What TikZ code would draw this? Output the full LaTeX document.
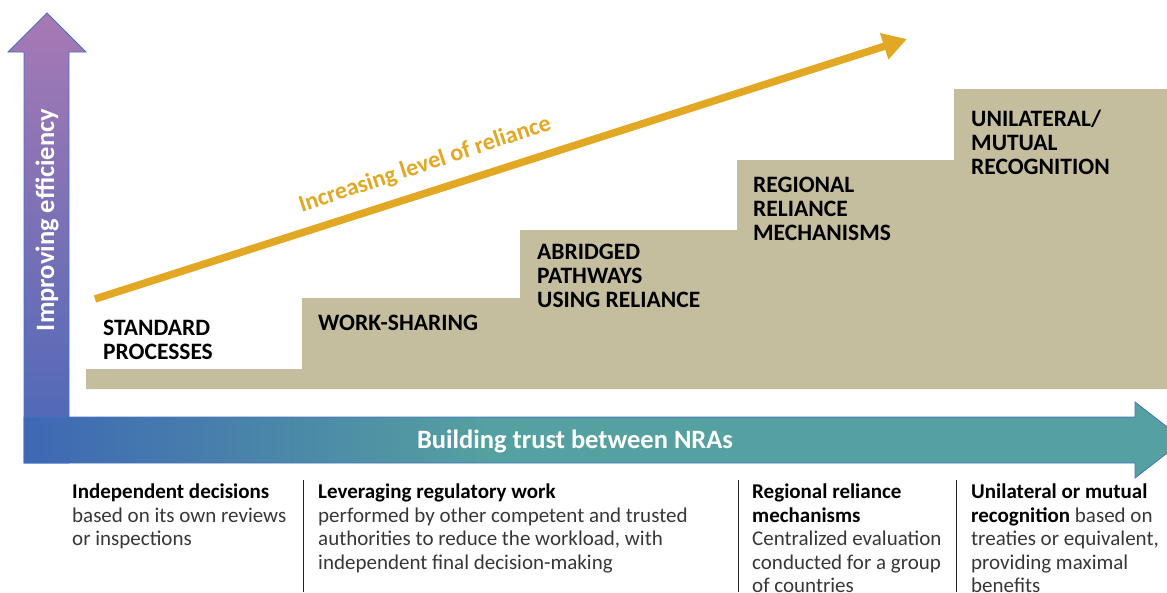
\documentclass[tikz,border=0pt]{standalone}
\usepackage{fontspec}
\setmainfont{Carlito}
\usetikzlibrary{arrows.meta}

\definecolor{effTop}{RGB}{168,121,180}
\definecolor{effBot}{RGB}{72,104,184}
\definecolor{trustL}{RGB}{62,104,180}
\definecolor{trustR}{RGB}{85,160,160}
\definecolor{edgeblue}{RGB}{68,114,196}
\definecolor{stepfill}{RGB}{196,190,159}
\definecolor{relorange}{RGB}{227,168,35}
\definecolor{bodygray}{RGB}{55,55,55}

\pgfdeclarehorizontalshading{trustshade}{100bp}{%
  color(0bp)=(trustL); color(25bp)=(trustL); color(45bp)=(trustR); color(100bp)=(trustR)}

\begin{document}
\begin{tikzpicture}[x=1pt,y=-1pt,
  steplabel/.style={anchor=north west, inner sep=0pt, align=left,
    font=\fontsize{23.5}{24}\selectfont\bfseries, text=black},
  coltext/.style={anchor=north west, inner sep=0pt, align=left,
    font=\fontsize{21}{23.5}\selectfont, text=bodygray},
  axislabel/.style={inner sep=0pt, text=white,
    font=\fontsize{26.5}{27}\selectfont\bfseries},
  divider/.style={draw=black!85, line width=1pt}]

\useasboundingbox (0,0) rectangle (1167,592);
\clip (0,0) rectangle (1167,592);

% staircase of reliance levels
\fill[stepfill] (86,389) -- (86,369) -- (302,369) -- (302,298) -- (520,298)
  -- (520,230) -- (737,230) -- (737,160) -- (954,160) -- (954,89)
  -- (1167,89) -- (1167,389) -- cycle;

% vertical axis arrow
\path[top color=effTop, bottom color=effBot, draw=edgeblue, line width=0.8pt]
  (24,463) -- (24,52) -- (8,52) -- (47,13) -- (86,52) -- (69,52) -- (69,463) -- cycle;

% horizontal axis arrow
\path[shading=trustshade, draw=edgeblue, line width=0.8pt]
  (69,417) -- (1135,417) -- (1135,402) -- (1184,440) -- (1135,478)
  -- (1135,463) -- (24,463) -- (24,417) -- (69,417);

\node[axislabel, rotate=90] (eff) at (47,220) {Improving efficiency};
\node[axislabel] (trust) at (575,441) {Building trust between NRAs};

% rising reliance arrow
\coordinate (relA) at (95,299);
\coordinate (relB) at (907,39);
\draw[relorange, line width=7.5pt, -{Triangle[length=24pt,width=26pt]}] (relA) -- (relB);
\node[inner sep=0pt, anchor=base, rotate=18.4, text=relorange,
  font=\fontsize{24}{26}\selectfont\bfseries] (rel) at (427,171)
  {Increasing level of reliance};

% step labels
\node[steplabel] (s1) at (103,320) {STANDARD\\PROCESSES};
\node[steplabel] (s2) at (318,315) {WORK-SHARING};
\node[steplabel] (s3) at (537,244) {ABRIDGED\\PATHWAYS\\USING RELIANCE};
\node[steplabel] (s4) at (753,177) {REGIONAL\\RELIANCE\\MECHANISMS};
\node[steplabel] (s5) at (971,110) {UNILATERAL/\\MUTUAL\\RECOGNITION};

% column dividers
\coordinate (d1t) at (303,480); \coordinate (d1b) at (303,592);
\coordinate (d2t) at (738,480); \coordinate (d2b) at (738,592);
\coordinate (d3t) at (956,480); \coordinate (d3b) at (956,592);
\draw[divider] (d1t) -- (d1b);
\draw[divider] (d2t) -- (d2b);
\draw[divider] (d3t) -- (d3b);

% descriptions
\node[coltext] (c1) at (72,484)
  {{\bfseries\color{black}Independent decisions}\\based on its own reviews\\or inspections};
\node[coltext] (c2) at (318,484)
  {{\bfseries\color{black}Leveraging regulatory work}\\performed by other competent and trusted\\authorities to reduce the workload, with\\independent final decision-making};
\node[coltext] (c3) at (752,484)
  {{\bfseries\color{black}Regional reliance}\\{\bfseries\color{black}mechanisms}\\Centralized evaluation\\conducted for a group\\of countries};
\node[coltext] (c4) at (971,484)
  {{\bfseries\color{black}Unilateral or mutual}\\{\bfseries\color{black}recognition} based on\\treaties or equivalent,\\providing maximal\\benefits};

\end{tikzpicture}
\end{document}
